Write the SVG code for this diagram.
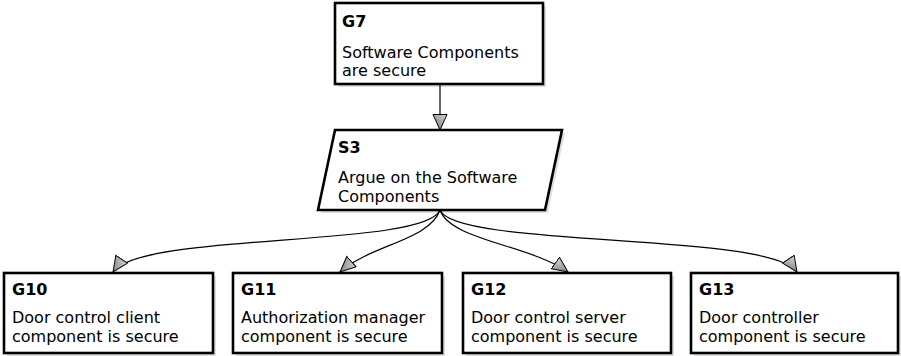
<svg xmlns="http://www.w3.org/2000/svg" width="901" height="356" viewBox="0 0 901 356">
<style>
.box{fill:#fff;stroke:#000;stroke-width:2.6}
.sh{fill:#000;opacity:0.12}
.id{font-family:"DejaVu Sans",sans-serif;font-size:16px;font-weight:bold;fill:#000}
.tx{font-family:"DejaVu Sans",sans-serif;font-size:16px;fill:#000}
.ln{fill:none;stroke:#000;stroke-width:1.2}
</style>
<defs>
<linearGradient id="ag" x1="0" y1="0" x2="1" y2="1">
<stop offset="0" stop-color="#d8d8d8"/>
<stop offset="1" stop-color="#6e6e6e"/>
</linearGradient>
<marker id="arr" markerUnits="userSpaceOnUse" markerWidth="18" markerHeight="16" refX="16" refY="7.5" orient="auto">
<path d="M0.5,0.5 L16,7.5 L0.5,14.5 z" fill="url(#ag)" stroke="#000" stroke-width="1"/>
</marker>
</defs>
<g id="connectors">
<path class="ln" d="M440,84 L440,130" marker-end="url(#arr)"/>
<path class="ln" d="M440,210 C425,248 140,232 113,272" marker-end="url(#arr)"/>
<path class="ln" d="M440,210 C430,240 370,245 340,272" marker-end="url(#arr)"/>
<path class="ln" d="M440,210 C450,240 530,245 568,272" marker-end="url(#arr)"/>
<path class="ln" d="M440,210 C455,248 770,232 797,272" marker-end="url(#arr)"/>
</g>
<g id="G7">
<rect class="sh" x="338" y="6" width="208" height="81"/>
<rect class="box" x="335" y="3" width="208" height="81"/>
<text class="id" x="342" y="27">G7</text>
<text class="tx" x="342" y="58">Software Components</text>
<text class="tx" x="342" y="76">are secure</text>
</g>
<g id="S3">
<polygon class="sh" points="338,133 565,133 548,213 321,213"/>
<polygon class="box" points="335,130 562,130 545,210 318,210"/>
<text class="id" x="338" y="153">S3</text>
<text class="tx" x="338" y="183">Argue on the Software</text>
<text class="tx" x="338" y="202">Components</text>
</g>
<g id="G10">
<rect class="sh" x="7" y="276" width="209" height="80"/>
<rect class="box" x="4" y="273" width="209" height="80"/>
<text class="id" x="12" y="295">G10</text>
<text class="tx" x="12" y="323">Door control client</text>
<text class="tx" x="12" y="342">component is secure</text>
</g>
<g id="G11">
<rect class="sh" x="236" y="276" width="209" height="80"/>
<rect class="box" x="233" y="273" width="209" height="80"/>
<text class="id" x="241" y="295">G11</text>
<text class="tx" x="241" y="323">Authorization manager</text>
<text class="tx" x="241" y="342">component is secure</text>
</g>
<g id="G12">
<rect class="sh" x="466" y="276" width="208" height="80"/>
<rect class="box" x="463" y="273" width="208" height="80"/>
<text class="id" x="471" y="295">G12</text>
<text class="tx" x="471" y="323">Door control server</text>
<text class="tx" x="471" y="342">component is secure</text>
</g>
<g id="G13">
<rect class="sh" x="694" y="276" width="207" height="80"/>
<rect class="box" x="691" y="273" width="207" height="80"/>
<text class="id" x="699" y="295">G13</text>
<text class="tx" x="699" y="323">Door controller</text>
<text class="tx" x="699" y="342">component is secure</text>
</g>
</svg>
